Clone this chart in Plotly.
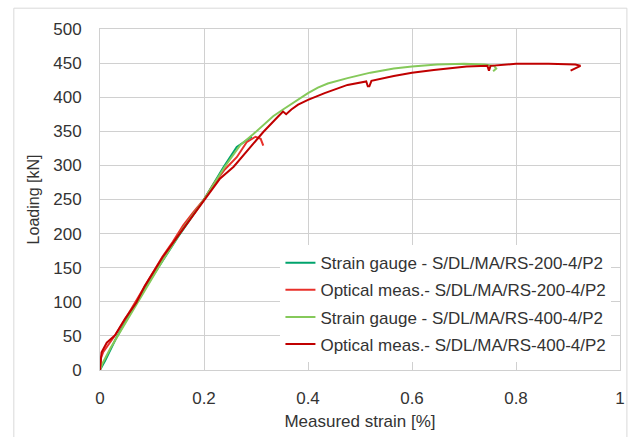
import plotly.graph_objects as go

# Load–strain curves for the two specimens (strain gauge vs optical measurement)
sg200_strain = [0, 0.01, 0.03, 0.07, 0.105, 0.15, 0.2, 0.229, 0.238, 0.263, 0.28, 0.292]
sg200_load = [0, 14, 45, 100, 142, 195, 250, 288, 298, 327, 336, 342]

om200_strain = [0, 0.002, 0.006, 0.015, 0.03, 0.048, 0.062, 0.08, 0.1, 0.12, 0.14, 0.16, 0.18, 0.2,
                0.22, 0.24, 0.263, 0.282, 0.299, 0.309, 0.314]
om200_load = [0, 18, 26, 36, 52, 74, 92, 114, 140, 166, 188, 212, 232, 250,
              274, 294, 312, 334, 342, 339, 329]

sg400_strain = [0, 0.005, 0.02, 0.04, 0.08, 0.12, 0.16, 0.2, 0.24, 0.27, 0.295, 0.315, 0.333, 0.352,
                0.381, 0.4, 0.419, 0.438, 0.476, 0.52, 0.565, 0.6, 0.648, 0.7, 0.74, 0.758, 0.762, 0.756]
sg400_load = [0, 10, 32, 58, 110, 160, 208, 250, 298, 330, 346, 360, 372, 382,
              397, 406, 414, 420, 428, 436, 442, 445, 448, 449, 448, 446, 442, 438]

om400_strain = [0, 0.001, 0.003, 0.013, 0.029, 0.048, 0.061, 0.07, 0.086, 0.101, 0.12, 0.14, 0.165,
                0.2, 0.23, 0.257, 0.279, 0.299, 0.314, 0.343, 0.352, 0.358, 0.368, 0.381, 0.4,
                0.432, 0.45, 0.476, 0.512, 0.515, 0.518, 0.522, 0.565, 0.6, 0.642, 0.705, 0.745,
                0.748, 0.751, 0.8, 0.863, 0.914, 0.924, 0.905]
om400_load = [0, 14, 26, 40, 51, 75, 89, 99, 123, 142, 165, 186, 212,
              250, 280, 298, 318, 336, 349, 372, 379, 375, 382, 389, 396,
              406, 411, 418, 423, 416, 416, 424, 431, 436, 440, 445, 446,
              439, 446, 449, 449, 448, 446, 439]

series = [
    ("Strain gauge - S/DL/MA/RS-200-4/P2", sg200_strain, sg200_load, "#00A36C"),
    ("Optical meas.- S/DL/MA/RS-200-4/P2", om200_strain, om200_load, "#E8302A"),
    ("Strain gauge - S/DL/MA/RS-400-4/P2", sg400_strain, sg400_load, "#85C95A"),
    ("Optical meas.- S/DL/MA/RS-400-4/P2", om400_strain, om400_load, "#C00000"),
]

x_ticks = [0, 0.2, 0.4, 0.6, 0.8, 1]
y_ticks = list(range(0, 501, 50))

FONT = "Liberation Sans, Arial, sans-serif"
GRID = "#d0d0d0"

fig = go.Figure()
for i, (name, xs, ys, color) in enumerate(series):
    fig.add_trace(go.Scatter(
        x=xs, y=ys, mode="lines", name=name, legendgroup=f"g{i}",
        line=dict(color=color, width=2),
    ))

fig.update_layout(
    width=635, height=437,
    margin=dict(l=100, r=10, t=29, b=64),
    paper_bgcolor="white", plot_bgcolor="white",
    font=dict(family=FONT, size=17, color="#333333"),
    legend=dict(
        x=0.347, y=0.366, xanchor="left", yanchor="top",
        bgcolor="white", font=dict(size=17, color="#333333"),
        traceorder="grouped", tracegroupgap=2,
    ),
    xaxis=dict(
        range=[0, 1], tickvals=x_ticks, ticktext=[f"{v:g}" for v in x_ticks],
        showgrid=True, gridcolor=GRID, gridwidth=1,
        zeroline=False, showline=True, linecolor=GRID, mirror=True,
        ticks="", ticklabelstandoff=13,
        title=dict(text="Measured strain [%]", font=dict(size=17), standoff=7),
    ),
    yaxis=dict(
        range=[0, 500], tickvals=y_ticks,
        showgrid=True, gridcolor=GRID, gridwidth=1,
        zeroline=False, showline=True, linecolor=GRID, mirror=True,
        ticks="", ticklabelstandoff=14,
        title=dict(text="Loading [kN]", font=dict(size=16), standoff=9),
    ),
    shapes=[dict(
        type="rect", xref="paper", yref="paper",
        x0=-0.1657, x1=1.0133, y0=-0.3, y1=1.061,
        line=dict(color="#d9d9d9", width=1), layer="below",
    )],
)

fig.write_html("out.html")
